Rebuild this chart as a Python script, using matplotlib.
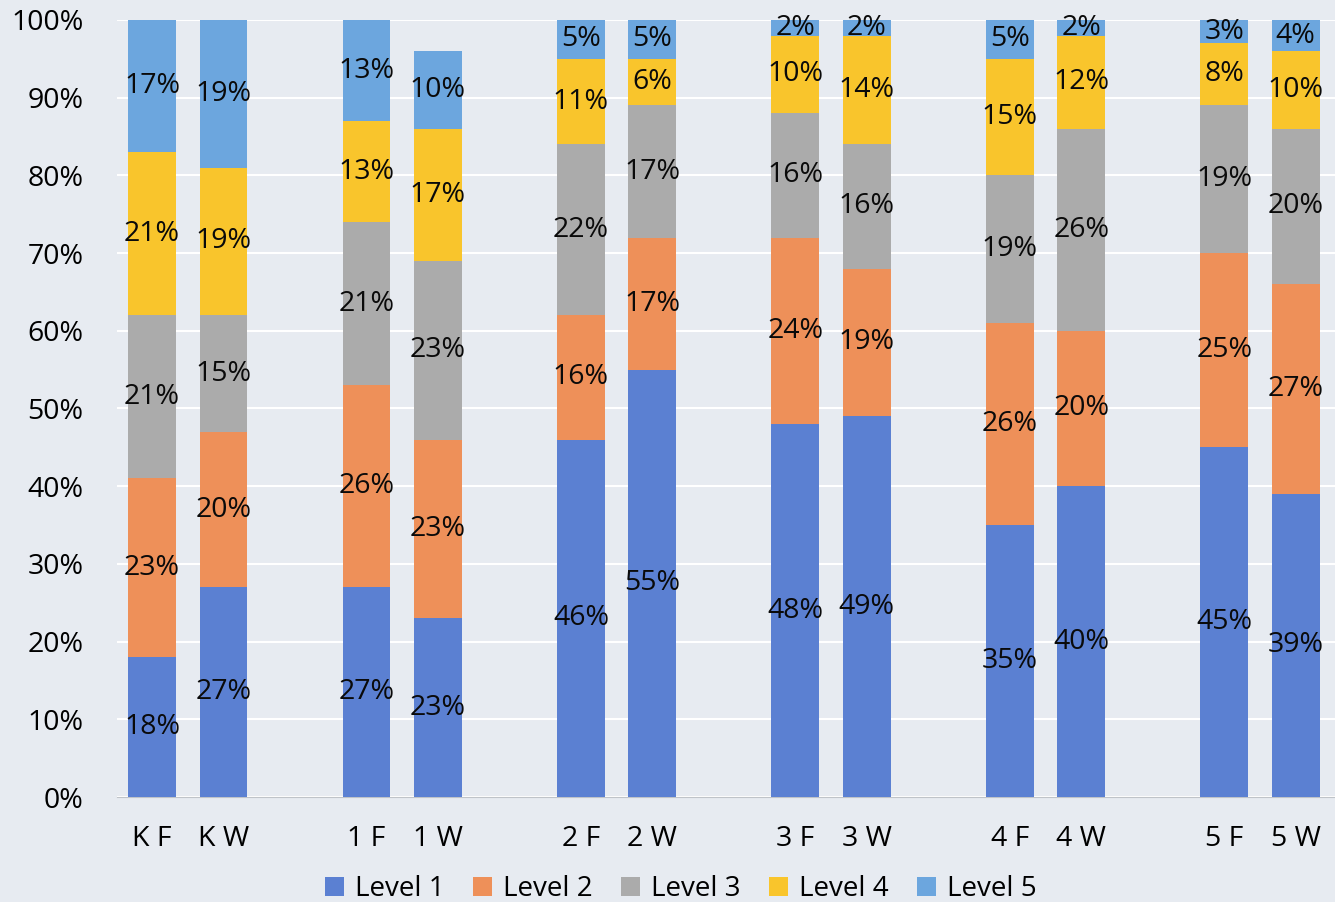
import matplotlib.pyplot as plt
import numpy as np

plt.rcParams['font.family'] = ['Open Sans', 'DejaVu Sans']

# categories and values (percent)
cats = ['K F', 'K W', '1 F', '1 W', '2 F', '2 W', '3 F', '3 W', '4 F', '4 W', '5 F', '5 W']
levels = ['Level 1', 'Level 2', 'Level 3', 'Level 4', 'Level 5']
level1 = [18, 27, 27, 23, 46, 55, 48, 49, 35, 40, 45, 39]
level2 = [23, 20, 26, 23, 16, 17, 24, 19, 26, 20, 25, 27]
level3 = [21, 15, 21, 23, 22, 17, 16, 16, 19, 26, 19, 20]
level4 = [21, 19, 13, 17, 11, 6, 10, 14, 15, 12, 8, 10]
level5 = [17, 19, 13, 10, 5, 5, 2, 2, 5, 2, 3, 4]
colors = ['#5B80D2', '#EE9059', '#ABABAB', '#F9C52C', '#6CA6DE']

series = [level1, level2, level3, level4, level5]
x = np.array([(i // 2) * 3 + (i % 2) for i in range(len(cats))])

bg = '#E7EBF1'
fig = plt.figure(figsize=(13.35, 9.02), dpi=100, facecolor=bg)
ax = fig.add_axes([117 / 1335, 1 - 797 / 902, 1 - 117 / 1335, 777 / 902])
ax.set_facecolor(bg)

bottom = np.zeros(len(cats))
for vals, name, c in zip(series, levels, colors):
    vals = np.array(vals)
    ax.bar(x, vals, 0.67, bottom=bottom, color=c, label=name, zorder=3)
    for xi, b, v in zip(x, bottom, vals):
        ax.text(xi, b + v / 2, f'{v}%', ha='center', va='center',
                fontsize=20.5, color='#0A0A0A', zorder=4)
    bottom += vals

ax.set_ylim(0, 100)
ax.set_xlim(-0.49, 16.55)
ax.set_yticks(np.arange(0, 101, 10))
ax.set_yticklabels([f'{t}%' for t in range(0, 101, 10)], fontsize=20.5)
ax.set_xticks(x)
ax.set_xticklabels(cats, fontsize=20.5)
ax.tick_params(length=0, pad=24, axis='y')
ax.tick_params(length=0, pad=20, axis='x')
ax.grid(axis='y', color='white', linewidth=1.5, zorder=0)
for s in ['top', 'right', 'left']:
    ax.spines[s].set_visible(False)
ax.spines['bottom'].set_color('#BFC3C8')

fig.legend(loc='center', bbox_to_anchor=(0.51, 1 - 889 / 902), ncol=5,
           frameon=False, fontsize=20, handlelength=0.7, handleheight=0.7,
           handletextpad=0.4, columnspacing=1.0)

fig.savefig('out.png', dpi=100, facecolor=bg)
